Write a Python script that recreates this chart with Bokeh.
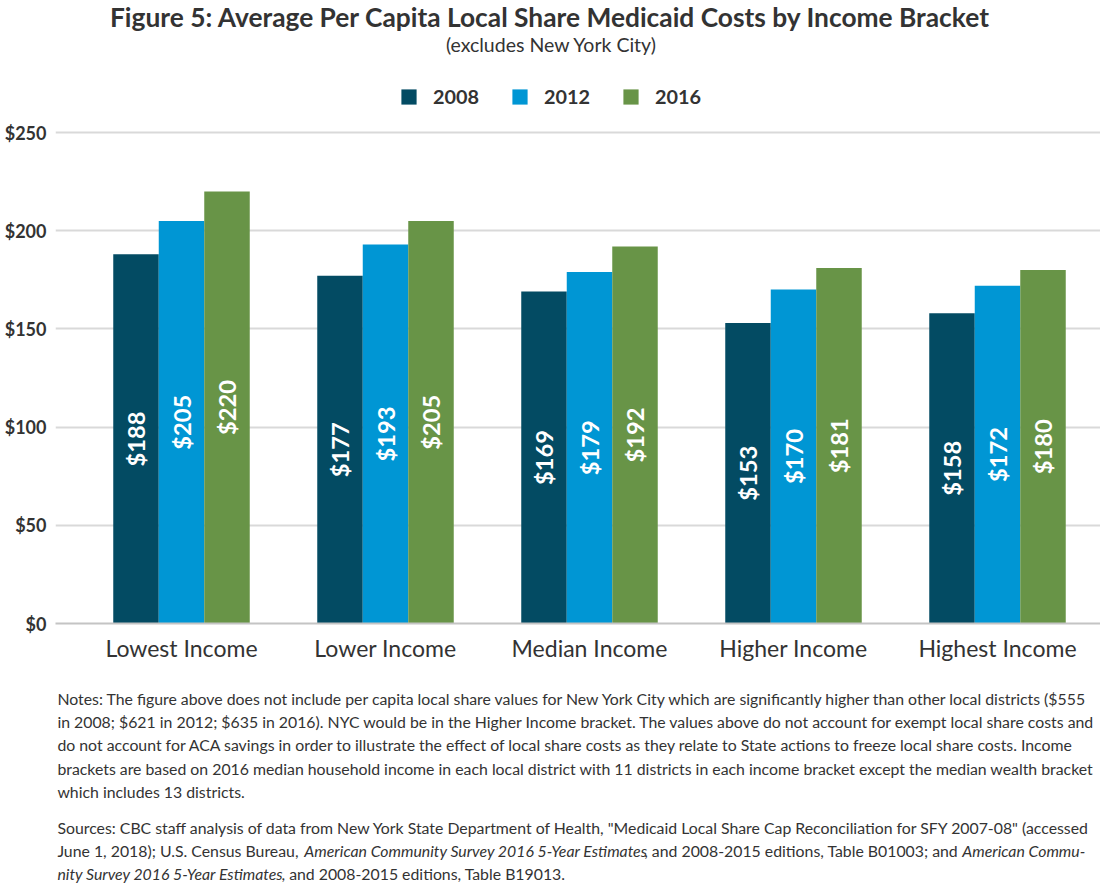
import os
import math
import struct
import subprocess

from bokeh.plotting import figure
from bokeh.layouts import column
from bokeh.models import (Range1d, FixedTicker, NumeralTickFormatter, Label,
                          Legend, LegendItem, ColumnDataSource)
from bokeh.core.properties import value
from bokeh.embed import file_html
from bokeh.resources import INLINE

# ---------------------------------------------------------------- data
categories = ["Lowest Income", "Lower Income", "Median Income",
              "Higher Income", "Highest Income"]
years = ["2008", "2012", "2016"]
cost_2008 = [188, 177, 169, 153, 158]
cost_2012 = [205, 193, 179, 170, 172]
cost_2016 = [220, 205, 192, 181, 180]
y_ticks = [0, 50, 100, 150, 200, 250]

title_text = "Figure 5: Average Per Capita Local Share Medicaid Costs by Income Bracket"
subtitle_text = "(excludes New York City)"

notes_lines = [
    "Notes: The figure above does not include per capita local share values for New York City which are significantly higher than other local districts ($555",
    "in 2008; $621 in 2012; $635 in 2016). NYC would be in the Higher Income bracket. The values above do not account for exempt local share costs and",
    "do not account for ACA savings in order to illustrate the effect of local share costs as they relate to State actions to freeze local share costs. Income",
    "brackets are based on 2016 median household income in each local district with 11 districts in each income bracket except the median wealth bracket",
    "which includes 13 districts.",
]
sources_lines = [
    [("normal", "Sources: CBC staff analysis of data from New York State Department of Health, \"Medicaid Local Share Cap Reconciliation for SFY 2007-08\" (accessed")],
    [("normal", "June 1, 2018); U.S. Census Bureau, "),
     ("italic", "American Community Survey 2016 5-Year Estimates"),
     ("normal", ", and 2008-2015 editions, Table B01003; and "),
     ("italic", "American Commu-")],
    [("italic", "nity Survey 2016 5-Year Estimates"),
     ("normal", ", and 2008-2015 editions, Table B19013.")],
]

colors = ["#034b63", "#0096d4", "#689447"]
TEXT = "#333333"
FONT = "Lato"


# ---------------------------------------------------------------- font metrics
def find_font(style_name, file_keys):
    try:
        out = subprocess.run(["fc-match", "-f", "%{file}", "Lato:style=" + style_name],
                             capture_output=True, text=True, timeout=10).stdout.strip()
        if out and os.path.exists(out) and "lato" in os.path.basename(out).lower():
            return out
    except Exception:
        pass
    roots = ["/usr/share/fonts", "/usr/local/share/fonts",
             os.path.expanduser("~/.fonts"), os.path.expanduser("~/.local/share/fonts")]
    for root in roots:
        for dp, _, fns in os.walk(root):
            for fn in fns:
                low = fn.lower().replace("_", "-")
                if low in file_keys:
                    return os.path.join(dp, fn)
    return None


class Metrics:
    def __init__(self, style_name, keys, fallback, space_extra):
        self.fallback = fallback
        self.space_extra = space_extra    # observed extra width of a space, in em
        self.ok = False
        try:
            self._load(find_font(style_name, keys))
            self.ok = True
        except Exception:
            pass

    def _load(self, path):
        d = open(path, "rb").read()
        n = struct.unpack(">H", d[4:6])[0]
        t = {}
        for i in range(n):
            tag, _, off, _ = struct.unpack(">4sIII", d[12 + 16 * i:28 + 16 * i])
            t[tag] = off
        self.upm = struct.unpack(">H", d[t[b"head"] + 18:t[b"head"] + 20])[0]
        nhm = struct.unpack(">H", d[t[b"hhea"] + 34:t[b"hhea"] + 36])[0]
        h = t[b"hmtx"]
        self.adv = [struct.unpack(">H", d[h + 4 * i:h + 4 * i + 2])[0] for i in range(nhm)]
        c = t[b"cmap"]
        nsub = struct.unpack(">H", d[c + 2:c + 4])[0]
        cmap = {}
        for i in range(nsub):
            _, _, off = struct.unpack(">HHI", d[c + 4 + 8 * i:c + 12 + 8 * i])
            so = c + off
            fmt = struct.unpack(">H", d[so:so + 2])[0]
            if fmt != 4 or cmap:
                continue
            segx2 = struct.unpack(">H", d[so + 6:so + 8])[0]
            seg = segx2 // 2
            ends = struct.unpack(">%dH" % seg, d[so + 14:so + 14 + segx2])
            starts = struct.unpack(">%dH" % seg, d[so + 16 + segx2:so + 16 + 2 * segx2])
            deltas = struct.unpack(">%dh" % seg, d[so + 16 + 2 * segx2:so + 16 + 3 * segx2])
            rpos = so + 16 + 3 * segx2
            ros = struct.unpack(">%dH" % seg, d[rpos:rpos + segx2])
            for s in range(seg):
                if starts[s] > 255:
                    continue
                for ch in range(starts[s], min(ends[s], 255) + 1):
                    if ros[s] == 0:
                        g = (ch + deltas[s]) & 0xFFFF
                    else:
                        a = rpos + 2 * s + ros[s] + 2 * (ch - starts[s])
                        g = struct.unpack(">H", d[a:a + 2])[0]
                        if g:
                            g = (g + deltas[s]) & 0xFFFF
                    cmap[ch] = g
        if not cmap:
            raise ValueError("no cmap")
        self.cmap = cmap
        self.nhm = nhm

    def width(self, text, size):
        if not self.ok:
            return len(text) * self.fallback * size
        tot = 0.0
        for ch in text:
            g = self.cmap.get(ord(ch), 0)
            tot += self.adv[min(g, self.nhm - 1)] / self.upm
            if ch == " ":
                tot += self.space_extra
        return tot * size


M = {"normal": Metrics("Regular", ("lato-regular.ttf", "lato-regular.otf"), 0.51, 0.096),
     "bold": Metrics("Bold", ("lato-bold.ttf", "lato-bold.otf"), 0.56, 0.0),
     "italic": Metrics("Italic", ("lato-italic.ttf", "lato-italic.otf"), 0.49, 0.096)}


def seg_gap(txt):
    # small extra room after a run, so that mixed-style runs never touch
    return 4.5 if txt.endswith(" ") else 2.5


def fit_many(items, target, default):
    if not all(M[s].ok for it in items for s, _ in it):
        return default
    w = max(sum(M[st].width(tx, 1.0) for st, tx in it) for it in items)
    return target / w


def fit(text, style, target, default):
    return fit_many([[(style, text)]], target, default)


title_size = fit(title_text, "bold", 888, 24)
subtitle_size = fit(subtitle_text, "normal", 221, 15.5)
legend_size = fit("2008", "bold", 46, 19)
xlab_size = fit(categories[0], "normal", 156, 22)
ylab_size = 18
bar_size = fit("$188", "bold", 55, 22)
notes_items = [[("normal", l)] for l in notes_lines] + sources_lines
notes_size = fit_many(notes_items, 1083, 14.0)

BASE_K = 0.39     # Bokeh places an "alphabetic" label about this far (in em) below its y


def px(v):
    return "%.2fpx" % v


# ---------------------------------------------------------------- chart geometry
W = 1100
H_CHART = 672
B_LEFT, B_BOTTOM = 55, 49
frame_h = H_CHART - B_BOTTOM          # frame runs from canvas top to the zero line
slot = 204.0                          # pixels per income bracket
first_center = 181.0                  # canvas x of the first group centre
X0 = (B_LEFT - first_center) / slot
X1 = (W - first_center) / slot
ppu = 491.0 / 250.0                   # pixels per dollar
Y1 = frame_h / ppu
bar_w = 45.5 / slot


def dx(cx):
    return (cx - first_center) / slot


def dy(cy):
    return (frame_h - cy) / ppu


p = figure(width=W, height=H_CHART, x_range=Range1d(X0, X1), y_range=Range1d(0, Y1),
           output_backend="svg", toolbar_location=None,
           min_border_left=B_LEFT, min_border_right=0,
           min_border_top=0, min_border_bottom=B_BOTTOM)
p.outline_line_color = None
p.background_fill_color = "white"
p.border_fill_color = "white"

series = [cost_2008, cost_2012, cost_2016]
offsets = [-bar_w, 0.0, bar_w]
idx = list(range(len(categories)))
renderers = []
for yr, vals, off, col in zip(years, series, offsets, colors):
    src = ColumnDataSource(dict(
        x=[i + off for i in idx], top=vals,
        mid=[v / 2 for v in vals], lab=["$%d" % v for v in vals]))
    r = p.vbar(x="x", top="top", width=bar_w, bottom=0, source=src,
               fill_color=col, line_color=None)
    renderers.append(r)
    p.text(x="x", y="mid", text="lab", source=src, angle=math.pi / 2,
           text_align="center", text_baseline="middle",
           text_font=value(FONT), text_font_style="bold",
           text_font_size=value(px(bar_size)), text_color="white")

# axes
p.xaxis.ticker = FixedTicker(ticks=idx)
p.xaxis.major_label_overrides = {i: c for i, c in enumerate(categories)}
p.xaxis.major_label_text_font = FONT
p.xaxis.major_label_text_font_size = px(xlab_size)
p.xaxis.major_label_text_color = TEXT
p.xaxis.major_label_standoff = 10
p.xaxis.axis_line_color = "#c4c4c4"
p.xaxis.axis_line_width = 2
p.xaxis.major_tick_line_color = None
p.xaxis.minor_tick_line_color = None
p.xaxis.major_tick_out = 0
p.xaxis.major_tick_in = 0

p.yaxis.ticker = FixedTicker(ticks=y_ticks)
p.yaxis.formatter = NumeralTickFormatter(format="$0")
p.yaxis.major_label_text_font = FONT
p.yaxis.major_label_text_font_style = "bold"
p.yaxis.major_label_text_font_size = px(ylab_size)
p.yaxis.major_label_text_color = TEXT
p.yaxis.major_label_standoff = 9
p.yaxis.axis_line_color = None
p.yaxis.major_tick_line_color = None
p.yaxis.minor_tick_line_color = None
p.yaxis.major_tick_out = 0
p.yaxis.major_tick_in = 0

p.xgrid.grid_line_color = None
p.ygrid.grid_line_color = "#d9d9d9"
p.ygrid.grid_line_width = 2

# legend (inside the frame, above the $250 line)
legend = Legend(items=[LegendItem(label=yr, renderers=[r]) for yr, r in zip(years, renderers)],
                location=(399 - B_LEFT, frame_h - 108), orientation="horizontal",
                glyph_width=19, glyph_height=19, label_height=19,
                label_standoff=15, spacing=31, padding=0, margin=0,
                border_line_color=None, background_fill_alpha=0,
                label_text_font=FONT, label_text_font_style="bold",
                label_text_font_size=px(legend_size), label_text_color=TEXT)
p.add_layout(legend)

# title and subtitle
p.add_layout(Label(x=dx(550), y=dy(27 - BASE_K * title_size), text=title_text,
                   text_align="center", text_baseline="alphabetic", text_font=FONT,
                   text_font_style="bold", text_font_size=px(title_size), text_color=TEXT))
p.add_layout(Label(x=dx(551), y=dy(52 - BASE_K * subtitle_size), text=subtitle_text,
                   text_align="center", text_baseline="alphabetic", text_font=FONT,
                   text_font_size=px(subtitle_size), text_color=TEXT))

# ---------------------------------------------------------------- notes panel
H_NOTES = 884 - H_CHART
n = figure(width=W, height=H_NOTES, x_range=Range1d(0, W), y_range=Range1d(H_NOTES, 0),
           output_backend="svg", toolbar_location=None,
           x_axis_location=None, y_axis_location=None,
           min_border_left=0, min_border_right=0, min_border_top=0, min_border_bottom=0)
n.outline_line_color = None
n.xgrid.grid_line_color = None
n.ygrid.grid_line_color = None
n.background_fill_color = "white"
n.border_fill_color = "white"

left_x = 2.0
shift = BASE_K * notes_size
for i, line in enumerate(notes_lines):
    n.add_layout(Label(x=left_x, y=704 + 23.3 * i - shift - H_CHART, text=line,
                       text_align="left", text_baseline="alphabetic", text_font=FONT,
                       text_font_size=px(notes_size), text_color=TEXT))
for i, segs in enumerate(sources_lines):
    cx = left_x
    for k, (style, txt) in enumerate(segs):
        n.add_layout(Label(x=cx, y=833.5 + 22.8 * i - shift - H_CHART, text=txt,
                           text_align="left", text_baseline="alphabetic", text_font=FONT,
                           text_font_style=style,
                           text_font_size=px(notes_size), text_color=TEXT))
        cx += M[style].width(txt, notes_size)
        if len(segs) > 2:
            cx += seg_gap(txt)

root = column(p, n, spacing=0)
open("out.html", "w").write(file_html(root, INLINE))
